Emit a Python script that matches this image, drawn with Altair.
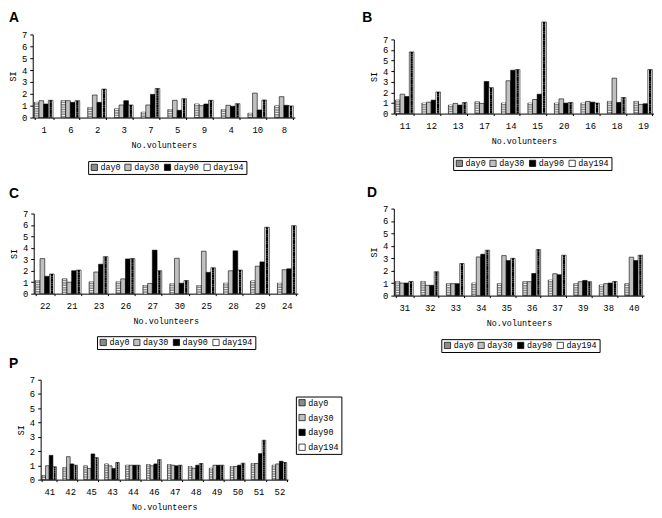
import altair as alt
import pandas as pd

SERIES = ["day0", "day30", "day90", "day194"]
FILLS = ["#8c8c8c", "#c0c0c0", "#000000", "#ffffff"]
MONO = "Liberation Mono"
W, H = 652, 505

# Panel A
a_vols = ["1", "6", "2", "3", "7", "5", "9", "4", "10", "8"]
a_day0 = [1.28, 1.42, 0.84, 0.73, 0.45, 0.67, 1.14, 0.67, 0.36, 0.98]
a_day30 = [1.42, 1.42, 1.90, 1.06, 1.06, 1.45, 1.00, 1.03, 2.06, 1.76]
a_day90 = [1.14, 1.28, 1.28, 1.42, 1.95, 0.61, 1.14, 0.95, 0.64, 1.03]
a_day194 = [1.45, 1.42, 2.40, 1.06, 2.45, 1.59, 1.45, 1.17, 1.48, 0.98]

# Panel B
b_vols = ["11", "12", "13", "17", "14", "15", "20", "16", "18", "19"]
b_day0 = [1.27, 0.99, 0.80, 1.11, 0.99, 0.99, 0.99, 0.99, 1.15, 1.15]
b_day30 = [1.83, 1.08, 0.96, 0.96, 3.10, 1.33, 1.39, 1.15, 3.34, 0.87]
b_day90 = [1.61, 1.27, 0.80, 3.03, 4.09, 1.83, 0.99, 1.08, 1.05, 0.93]
b_day194 = [5.82, 2.04, 1.05, 2.45, 4.15, 8.64, 1.05, 0.99, 1.52, 4.15]

# Panel C
c_vols = ["22", "21", "23", "26", "27", "30", "25", "28", "29", "24"]
c_day0 = [1.14, 1.29, 1.03, 1.03, 0.71, 0.86, 0.71, 0.91, 1.11, 0.91]
c_day30 = [3.06, 1.00, 1.89, 1.29, 0.89, 3.09, 3.71, 2.00, 2.40, 2.09]
c_day90 = [1.51, 2.00, 2.57, 3.03, 3.80, 0.91, 1.86, 3.74, 2.77, 2.17]
c_day194 = [1.71, 2.06, 3.23, 3.06, 2.00, 1.14, 2.26, 2.06, 5.80, 5.94]

# Panel D
d_vols = ["31", "32", "33", "34", "35", "36", "37", "39", "38", "40"]
d_day0 = [1.14, 1.14, 0.96, 1.01, 0.96, 1.12, 1.25, 0.96, 0.85, 0.96]
d_day30 = [1.01, 0.83, 0.96, 3.11, 3.22, 1.12, 1.76, 1.12, 0.96, 3.09]
d_day90 = [1.01, 0.83, 0.96, 3.33, 2.82, 1.78, 1.68, 1.22, 1.01, 2.82]
d_day194 = [1.14, 1.92, 2.58, 3.65, 3.00, 3.70, 3.25, 1.12, 1.14, 3.25]

# Panel P
p_vols = ["41", "42", "45", "43", "44", "46", "47", "48", "49", "50", "51", "52"]
p_day0 = [0.28, 0.85, 0.97, 1.10, 1.01, 1.06, 1.06, 0.92, 0.80, 0.92, 1.13, 1.01]
p_day30 = [0.97, 1.61, 0.78, 0.97, 1.01, 0.97, 1.01, 0.80, 1.01, 0.92, 1.13, 1.10]
p_day90 = [1.70, 1.10, 1.80, 0.78, 1.01, 1.10, 0.97, 1.01, 1.01, 1.01, 1.82, 1.29]
p_day194 = [0.90, 1.01, 1.54, 1.20, 1.01, 1.40, 1.01, 1.13, 1.01, 1.15, 2.76, 1.20]

YTICKS = [0, 1, 2, 3, 4, 5, 6, 7]
LETTERS = ["A", "B", "C", "D", "P"]
LETTER_X = [0, 357, 0, 362, 0]
LETTER_Y = [0, 0, 178, 177, 350]


def panel(vols, d0, d30, d90, d194, x0, x1, ytop, ybot, lx, ly, ldir,
          xtitle="No.volunteers", pi=0.3, po=0.06):
    rows = []
    for i, v in enumerate(vols):
        for s, arr in zip(SERIES, (d0, d30, d90, d194)):
            rows.append({"vol": v, "series": s, "value": arr[i]})
    df = pd.DataFrame(rows)
    step = (x1 - x0) / (len(vols) - pi + 2 * po)
    sub = step * (1 - pi) / 4

    xenc = alt.X("vol:N", title=xtitle,
                 scale=alt.Scale(domain=vols, range=[x0, x1], paddingInner=pi, paddingOuter=po),
                 axis=alt.Axis(orient="bottom", offset=ybot - H, labelAngle=0,
                               tickBand="extent", tickSize=2, labelPadding=6,
                               titlePadding=6, labelFontSize=9))
    yenc = alt.Y("value:Q", title="SI",
                 scale=alt.Scale(domain=[0, 7], range=[ybot, ytop], nice=False),
                 axis=alt.Axis(orient="left", offset=-x0, values=YTICKS, tickSize=3,
                               labelPadding=3, titlePadding=4, labelFontSize=9))
    xoff_scale = alt.Scale(domain=SERIES, paddingInner=0, paddingOuter=0)

    base = alt.Chart(df)
    bars = base.mark_bar(stroke="black", strokeWidth=0.6).encode(
        x=xenc, y=yenc,
        xOffset=alt.XOffset("series:N", scale=xoff_scale),
        color=alt.Color("series:N", scale=alt.Scale(domain=SERIES, range=FILLS),
                        legend=alt.Legend(title=None, orient="none", legendX=lx, legendY=ly,
                                          direction=ldir, strokeColor="black", padding=2,
                                          symbolType="square", symbolSize=40,
                                          symbolStrokeColor="black", symbolStrokeWidth=0.7,
                                          labelFont=MONO, labelFontSize=8.5, labelColor="black",
                                          columnPadding=2, labelOffset=2, rowPadding=5)),
    )
    hatch = base.transform_filter(alt.datum.series == "day0").mark_rule(
        color="#f0f0f0", strokeWidth=max(sub - 1.4, 1), strokeDash=[1, 1.4]
    ).encode(x=xenc, y=yenc, y2=alt.Y2Datum(0),
             xOffset=alt.XOffset("series:N", bandPosition=0.5))
    cw = sub / 2
    chkL = base.transform_filter(alt.datum.series == "day194").mark_rule(
        color="black", strokeWidth=cw, strokeDash=[cw, cw]
    ).encode(x=xenc, y=yenc, y2=alt.Y2Datum(0),
             xOffset=alt.XOffset("series:N", bandPosition=0.27))
    chkR = base.transform_filter(alt.datum.series == "day194").mark_rule(
        color="black", strokeWidth=cw, strokeDash=[cw, cw], strokeDashOffset=cw
    ).encode(x=xenc, y=yenc, y2=alt.Y2Datum(0),
             xOffset=alt.XOffset("series:N", bandPosition=0.73))
    return alt.layer(bars, hatch, chkL, chkR)


pA = panel(a_vols, a_day0, a_day30, a_day90, a_day194, 24, 289, 24, 108, 80, 152, "horizontal")
pB = panel(b_vols, b_day0, b_day30, b_day90, b_day194, 389, 652, 29, 104, 449, 148, "horizontal")
pC = panel(c_vols, c_day0, c_day30, c_day90, c_day194, 25, 292, 205, 286, 89, 329, "horizontal")
pD = panel(d_vols, d_day0, d_day30, d_day90, d_day194, 389, 642, 200, 288, 437, 332, "horizontal")
pP = panel(p_vols, p_day0, p_day30, p_day90, p_day194, 32, 282, 373, 474, 290, 390, "vertical")

letters = []
for t, lx, ly in zip(LETTERS, LETTER_X, LETTER_Y):
    letters.append(
        alt.Chart(pd.DataFrame({"t": [t]})).mark_text(
            font="Liberation Sans", fontSize=14, fontWeight="bold", color="black",
            align="left", baseline="top"
        ).encode(text="t:N", x=alt.value(lx), y=alt.value(ly))
    )

chart = alt.layer(pA, pB, pC, pD, pP, *letters).resolve_scale(
    x="independent", y="independent", xOffset="independent", color="independent"
).properties(width=W, height=H, padding=0).configure_view(stroke=None).configure_axis(
    grid=False, domainColor="black", tickColor="black", labelColor="black",
    titleColor="black", labelFont=MONO, titleFont=MONO, titleFontWeight="normal",
    titleFontSize=8.5, domainWidth=1
)

chart.save("out.html", embed_options={"renderer": "svg", "actions": False})
